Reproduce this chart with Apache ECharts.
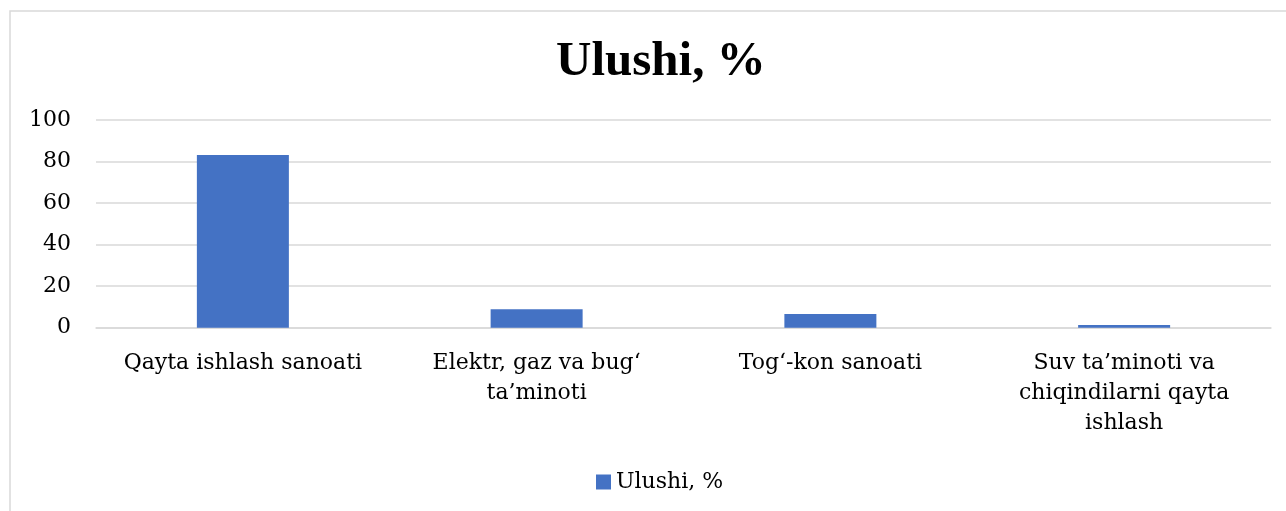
<!DOCTYPE html>
<html>
<head>
<meta charset="utf-8">
<script src="https://cdn.jsdelivr.net/npm/echarts@6/dist/echarts.min.js"></script>
<style>
	html, body { margin: 0; padding: 0; background: #fff; }
	#chart { width: 1286px; height: 511px; }
</style>
</head>
<body>
<div id="chart"></div>
<script>
var categories = ['Qayta ishlash sanoati', 'Elektr, gaz va bug‘\nta’minoti', 'Tog‘-kon sanoati', 'Suv ta’minoti va\nchiqindilarni qayta\nishlash'];
var shares = [83.2, 8.9, 6.6, 1.3];
var seriesName = 'Ulushi, %';
var yTicks = { min: 0, max: 100, interval: 20 };

var myChart = echarts.init(document.getElementById('chart'));

// matn shrifti
var serif = 'DejaVu Serif';

var option = {
	backgroundColor: '#fff',
	color: ['#4472C4'],
	animation: false,
	title: {
		text: seriesName,
		left: 551,
		top: 33,
		textStyle: {
			fontFamily: 'Liberation Serif',
			fontWeight: 'bold',
			fontSize: 49,
			color: '#000'
		}
	},
	graphic: [{
		type: 'rect',
		shape: { x: 10, y: 11, width: 1300, height: 520 },
		style: { fill: 'none', stroke: '#d9d9d9', lineWidth: 1.5 },
		silent: true
	}],
	legend: {
		data: [seriesName],
		left: 591,
		top: 466,
		itemWidth: 15,
		itemHeight: 15,
		icon: 'rect',
		itemGap: 6,
		textStyle: { fontFamily: serif, fontSize: 22, color: '#000' }
	},
	grid: {
		left: 96,
		right: 15,
		top: 120,
		height: 207.7,
		containLabel: false
	},
	xAxis: {
		type: 'category',
		data: categories,
		axisLine: { lineStyle: { color: '#d9d9d9', width: 1.5 } },
		axisTick: { show: false },
		axisLabel: {
			interval: 0,
			margin: 21,
			fontFamily: serif,
			fontSize: 22,
			lineHeight: 30,
			color: '#000',
			align: 'center'
		}
	},
	yAxis: {
		type: 'value',
		min: yTicks.min,
		max: yTicks.max,
		interval: yTicks.interval,
		axisLine: { show: false },
		axisTick: { show: false },
		axisLabel: {
			margin: 25,
			fontFamily: serif,
			fontSize: 22,
			color: '#000'
		},
		splitLine: { lineStyle: { color: '#d9d9d9', width: 1.5 } }
	},
	series: [{
		name: seriesName,
		type: 'bar',
		data: shares,
		barWidth: 92
	}]
};

myChart.setOption(option);
</script>
</body>
</html>
